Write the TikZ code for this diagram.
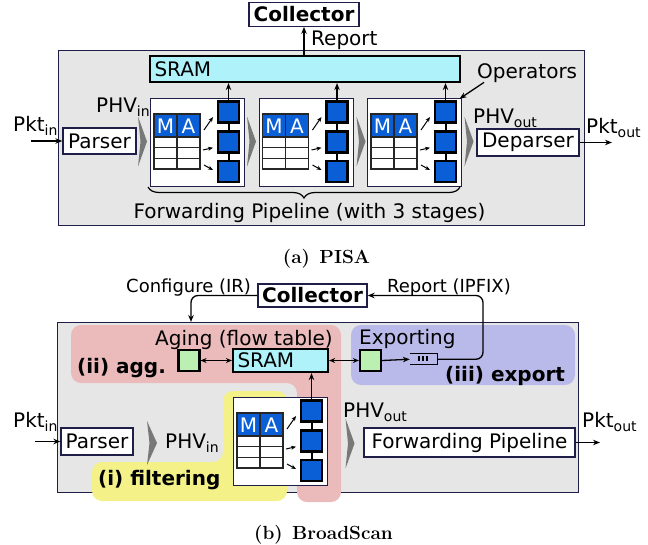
\documentclass[tikz,border=0pt]{standalone}
\usepackage{fontspec}
\newfontfamily\dvs{DejaVu Sans}
\usetikzlibrary{arrows.meta,decorations.pathreplacing}

\definecolor{navy}{RGB}{30,30,70}
\definecolor{swgray}{RGB}{230,230,230}
\definecolor{sramcyan}{RGB}{176,242,250}
\definecolor{opblue}{RGB}{10,95,215}
\definecolor{opgreen}{RGB}{187,240,178}
\definecolor{aggred}{RGB}{235,187,187}
\definecolor{expblue}{RGB}{186,186,234}
\definecolor{filtyellow}{RGB}{243,241,135}
\definecolor{chevgray}{RGB}{120,120,120}

% lowered small text for subscripts
\newcommand\lowsub[1]{\raisebox{-4pt}{\fontsize{14}{14}\selectfont #1}}

\tikzset{
  txt/.style={font=\dvs\fontsize{20}{24}\selectfont, inner sep=0},
  smalltxt/.style={font=\dvs\fontsize{18}{22}\selectfont, inner sep=0},
  boldtxt/.style={font=\dvs\bfseries\fontsize{20}{24}\selectfont, inner sep=0},
  graybox/.style={draw=navy, line width=1.3pt, fill=swgray, inner sep=0},
  plainbox/.style={draw=navy, line width=1.3pt, fill=white, inner sep=0,
    font=\dvs\fontsize{20}{24}\selectfont},
  srambox/.style={draw=black, line width=2.2pt, fill=sramcyan, inner ysep=0,
    inner xsep=4.5pt, align=left, font=\dvs\fontsize{20}{24}\selectfont},
  stagebox/.style={draw=navy, line width=1pt, fill=white, inner sep=0,
    minimum width=94pt, minimum height=88pt},
  opbox/.style={draw=black, line width=2.2pt, fill=opblue, inner sep=0,
    minimum size=21pt},
  greenbox/.style={draw=black, line width=2.2pt, fill=opgreen, inner sep=0,
    minimum size=21pt},
  tbl/.style={draw=black!85, line width=1.2pt},
  matext/.style={font=\dvs\fontsize{20}{24}\selectfont, text=white, inner sep=0},
  arr/.style={line width=1.3pt, -{Stealth[length=7pt,width=5.5pt]}},
  darr/.style={line width=1.3pt, {Stealth[length=6pt,width=5pt]}-{Stealth[length=6pt,width=5pt]}},
  smallarr/.style={line width=1pt, -{Stealth[length=5pt,width=4pt]}},
  chevron/.pic={\fill[chevgray] (0,-25) -- (9,0) -- (0,25) -- (2.5,0) -- cycle;},
  chevronlow/.pic={\fill[chevgray] (0,-22) -- (10,0) -- (0,22) -- (2.5,0) -- cycle;},
  mastage/.pic={
    \node[stagebox, anchor=north west] (-box) at (0,0) {};
    \fill[opblue] (4,16) rectangle (50,39);
    \draw[tbl] (4,16) rectangle (50,71);
    \draw[tbl] (27,16) -- (27,71);
    \draw[tbl] (4,39) -- (50,39) (4,49.7) -- (50,49.7) (4,60.3) -- (50,60.3);
    \node[matext] at (15.5,28) {M};
    \node[matext] at (38.5,28) {A};
    \draw[black, line width=2pt] (78.5,14) -- (78.5,73.5);
    \node[opbox] (-op1) at (78.5,14) {};
    \node[opbox] (-op2) at (78.5,44) {};
    \node[opbox] (-op3) at (78.5,73.5) {};
    \draw[smallarr] (54,32) -- (63,19);
    \draw[smallarr] (53,52) -- (63,49.7);
    \draw[smallarr] (54,67) -- (63,72);
  }
}

\begin{document}
\begin{tikzpicture}[x=1pt,y=-1pt]
\useasboundingbox (0,0) rectangle (648,544);

% ================= PISA switch =================
\node[graybox, minimum width=526pt, minimum height=175pt, anchor=north west] (swA) at (58,50) {};
\node[plainbox, font=\dvs\bfseries\fontsize{20}{24}\selectfont,
      minimum width=110pt, minimum height=23.5pt] (collA) at (304,14.5) {Collector};
\node[srambox, minimum width=310pt, minimum height=26pt, text width=301pt] (sramA) at (305,69) {SRAM};
\draw[arr] (collA.south |- sramA.north) -- (collA.south);
\node[txt, anchor=base west] (repA) at (311,45) {Report};

\pic (s1) at (150,98) {mastage};
\pic (s2) at (258.5,98) {mastage};
\pic (s3) at (367,98) {mastage};
\foreach \s in {s1,s2,s3}
  \draw[arr] (\s-op1.north) -- (\s-op1.north |- sramA.south);

\node[txt, anchor=base west] (opsLbl) at (477,78) {Operators};
\draw[arr, shorten >=3pt] ([xshift=7pt]opsLbl.south west) -- (s3-op1.north east);

\node[plainbox, minimum width=73pt, minimum height=26pt] (parserA) at (99.5,141) {Parser};
\node[plainbox, minimum width=102pt, minimum height=27pt] (deparserA) at (528,142.5) {Deparser};
\coordinate (pinA) at (31,141);
\coordinate (poutA) at (612,142.5);
\draw[arr] (pinA) -- (parserA.west);
\draw[arr] (deparserA.east) -- (poutA);

\pic at (138,141.5) {chevron};
\pic at (247,141.5) {chevron};
\pic at (356.5,141.5) {chevron};
\pic at (464.5,141.5) {chevron};

\node[txt, anchor=base west] (pktinA) at (13,131) {Pkt\lowsub{in}};
\node[txt, anchor=base west] (phvinA) at (96,112) {PHV\lowsub{in}};
\node[txt, anchor=base west] (phvoutA) at (473,123) {PHV\lowsub{out}};
\node[txt, anchor=base west] (pktoutA) at (586,133) {Pkt\lowsub{out}};

\draw[line width=1.2pt, decorate, decoration={brace, mirror, amplitude=11pt}]
  (148,187) -- (460,187);
\node[txt, anchor=base] (fwdLbl) at (309.5,218) {Forwarding Pipeline (with 3 stages)};

\node[anchor=base, font=\bfseries\fontsize{19}{22}\selectfont, inner sep=0] (capA) at (326.5,263) {(a)\enspace PISA};

% ================= BroadScan switch =================
\node[graybox, minimum width=521pt, minimum height=170pt, anchor=north west] (swB) at (57,322) {};
% module regions
\fill[aggred, rounded corners=10pt] (71,325) -- (341,325) -- (341,502) -- (297,502)
  -- (297,383) -- (71,383) -- cycle;
\fill[expblue, rounded corners=10pt] (351,325) rectangle (575,385);
\fill[filtyellow, rounded corners=10pt] (92,462) -- (223,462) -- (223,391) -- (287,391)
  -- (287,501) -- (92,501) -- cycle;

\node[plainbox, font=\dvs\bfseries\fontsize{20}{24}\selectfont,
      minimum width=109pt, minimum height=23pt] (collB) at (312.5,295.5) {Collector};
\node[smalltxt, anchor=base west] (cfgLbl) at (126,292) {Configure (IR)};
\node[smalltxt, anchor=base west] (ipfixLbl) at (387,292) {Report (IPFIX)};

\node[txt, anchor=base west] (agingLbl) at (155,345) {Aging (flow table)};
\node[txt, anchor=base west] (expLbl) at (359,344) {Exporting};
\node[boldtxt, anchor=base west] (aggLbl) at (77,373) {(ii) agg.};
\node[boldtxt, anchor=base west] (exportLbl) at (445,381) {(iii) export};
\node[boldtxt, anchor=base west] (filtLbl) at (98,485) {(i) filtering};

\node[greenbox] (g1) at (189,360.5) {};
\node[srambox, minimum width=95pt, minimum height=23pt, text width=86pt] (sramB) at (280.5,360.5) {SRAM};
\node[greenbox] (g2) at (370.5,360.5) {};
\node[inner sep=0, minimum width=27pt, minimum height=10.5pt] (queue) at (423.5,359.25) {};
\draw[line width=1.3pt] (queue.north west) -- (queue.north east) -- (queue.south east) -- (queue.south west);
\foreach \x in {419,423,427}
  \draw[line width=2pt] (\x,356) -- (\x,361);

\draw[darr] (g1.east) -- (sramB.west);
\draw[darr] (sramB.east) -- (g2.west);
\draw[arr] (g2.east) -- (queue.west);

\coordinate (rptTurn) at (483,295.5);
\coordinate (cfgEnd) at (191,322);
\draw[arr, rounded corners=7pt] (queue.east) -| (rptTurn) -- (collB.east);
\draw[arr, rounded corners=7pt] (collB.west) -| (cfgEnd);

\pic (sB) at (233,397) {mastage};
\draw[arr] (sB-op1.north) -- (sB-op1.north |- sramB.south);

\node[plainbox, minimum width=72pt, minimum height=27pt] (parserB) at (97,441.5) {Parser};
\node[plainbox, minimum width=211pt, minimum height=29pt] (fwdB) at (469.5,442.5) {Forwarding Pipeline};
\coordinate (pinB) at (35,441.5);
\coordinate (poutB) at (600,442.5);
\draw[arr] (pinB) -- (parserB.west);
\draw[arr] (fwdB.east) -- (poutB);

\pic at (147,443) {chevronlow};
\pic at (345.5,443.5) {chevron};

\node[txt, anchor=base west] (pktinB) at (13,427) {Pkt\lowsub{in}};
\node[txt, anchor=base west] (phvinB) at (165,448) {PHV\lowsub{in}};
\node[txt, anchor=base west] (phvoutB) at (343,417) {PHV\lowsub{out}};
\node[txt, anchor=base west] (pktoutB) at (582,427) {Pkt\lowsub{out}};

\node[anchor=base, font=\bfseries\fontsize{19}{22}\selectfont, inner sep=0] (capB) at (323.5,539) {(b)\enspace BroadScan};
\end{tikzpicture}
\end{document}
